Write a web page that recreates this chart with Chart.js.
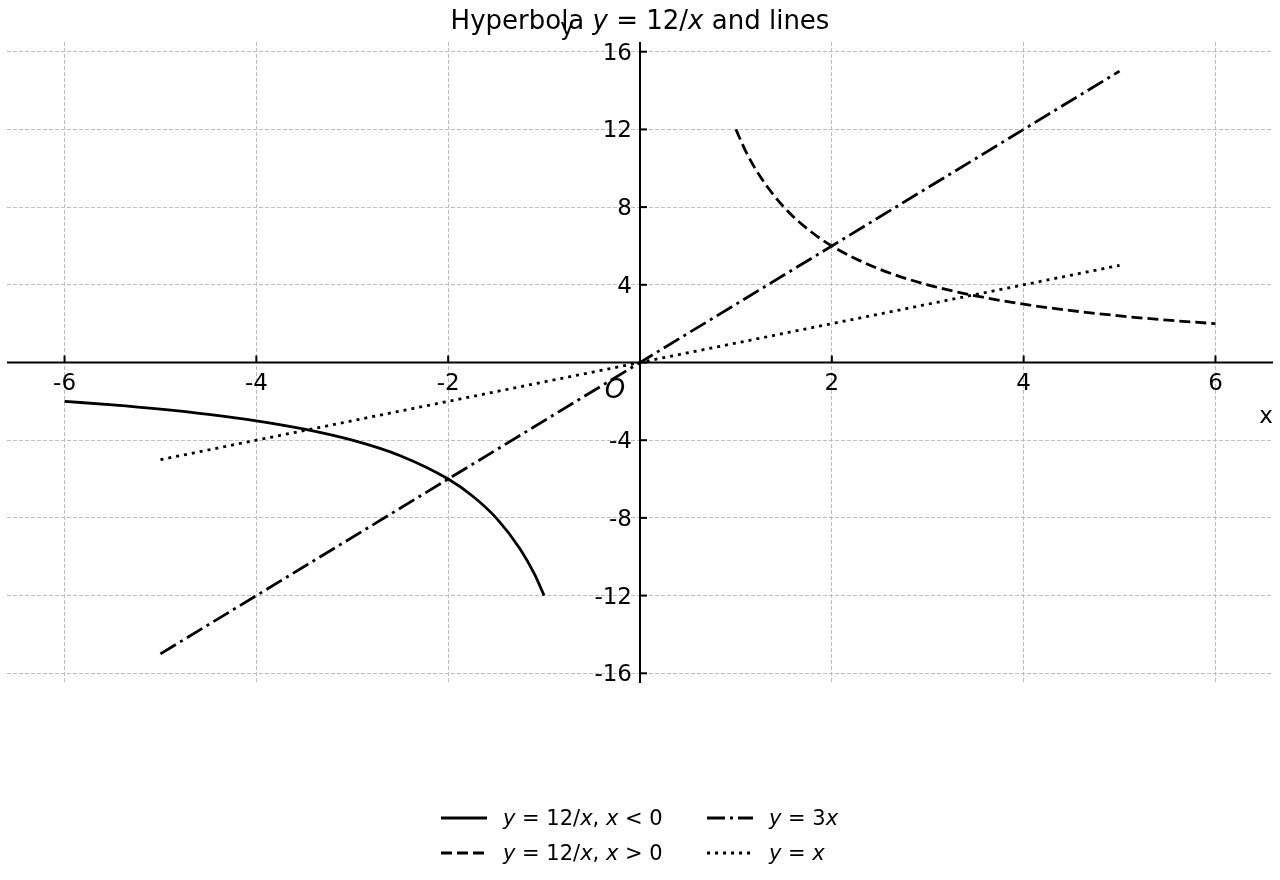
<!DOCTYPE html>
<html>
<head>
<meta charset="utf-8">
<script src="https://cdn.jsdelivr.net/npm/chart.js@4.4.0/dist/chart.umd.min.js"></script>
<style>
  html, body { margin: 0; padding: 0; background: #fff; }
  #wrap { width: 1280px; height: 880px; }
</style>
</head>
<body>
<div id="wrap"><canvas id="hyperbola" width="1280" height="880"></canvas></div>
<script>
// --- données ---
const negX = [-6, -5.5, -5, -4.5, -4, -3.5, -3, -2.5, -2, -1.75, -1.5, -1.25, -1.1, -1];
const negY = [-2, -2.18, -2.4, -2.67, -3, -3.43, -4, -4.8, -6, -6.86, -8, -9.6, -10.9, -12];
const posX = [1, 1.1, 1.25, 1.5, 1.75, 2, 2.5, 3, 3.5, 4, 4.5, 5, 5.5, 6];
const posY = [12, 10.9, 9.6, 8, 6.86, 6, 4.8, 4, 3.43, 3, 2.67, 2.4, 2.18, 2];
const lineX = [-5, 5];
const threeXY = [-15, 15];
const identY = [-5, 5];

const xTicks = [-6, -4, -2, 0, 2, 4, 6];
const yTicks = [-16, -12, -8, -4, 0, 4, 8, 12, 16];

// texte avec morceaux en italique (math)
const titleRuns = [["Hyperbola ", false], ["y", true], [" = 12/", false], ["x", true], [" and lines", false]];
const legendRuns = [
  [["y", true], [" = 12/", false], ["x", true], [", ", false], ["x", true], [" < 0", false]],
  [["y", true], [" = 12/", false], ["x", true], [", ", false], ["x", true], [" > 0", false]],
  [["y", true], [" = 3", false], ["x", true]],
  [["y", true], [" = ", false], ["x", true]]
];

const pts = (xs, ys) => xs.map((x, i) => ({ x: x, y: ys[i] }));

const FONT = "'DejaVu Sans', sans-serif";

function runsWidth(ctx, runs, size) {
  let w = 0;
  runs.forEach(([t, it]) => {
    ctx.font = (it ? "italic " : "") + size + "px " + FONT;
    w += ctx.measureText(t).width;
  });
  return w;
}

function drawRuns(ctx, runs, x, y, size, align) {
  let cx = align === "center" ? x - runsWidth(ctx, runs, size) / 2 : x;
  ctx.textAlign = "left";
  ctx.textBaseline = "alphabetic";
  runs.forEach(([t, it]) => {
    ctx.font = (it ? "italic " : "") + size + "px " + FONT;
    ctx.fillText(t, cx, y);
    cx += ctx.measureText(t).width;
  });
}

// axes au centre, graduations, titre et légende
const axesPlugin = {
  id: "centerAxes",
  afterDatasetsDraw(chart) {
    const ctx = chart.ctx;
    const area = chart.chartArea;
    const xs = chart.scales.x;
    const ys = chart.scales.y;
    const x0 = xs.getPixelForValue(0);
    const y0 = ys.getPixelForValue(0);

    ctx.save();
    ctx.strokeStyle = "#000";
    ctx.fillStyle = "#000";
    ctx.lineWidth = 2;
    ctx.setLineDash([]);

    // lignes des axes
    ctx.beginPath();
    ctx.moveTo(area.left, y0);
    ctx.lineTo(area.right, y0);
    ctx.moveTo(x0, area.top);
    ctx.lineTo(x0, area.bottom);
    ctx.stroke();

    // graduations + étiquettes
    ctx.font = "23px " + FONT;
    ctx.textBaseline = "alphabetic";
    xTicks.forEach(v => {
      const px = xs.getPixelForValue(v);
      ctx.beginPath();
      ctx.moveTo(px, y0);
      ctx.lineTo(px, y0 - 7);
      ctx.stroke();
      if (v !== 0) {
        ctx.textAlign = "center";
        ctx.fillText(String(v), px, y0 + 27);
      }
    });
    yTicks.forEach(v => {
      const py = ys.getPixelForValue(v);
      ctx.beginPath();
      ctx.moveTo(x0, py);
      ctx.lineTo(x0 + 7, py);
      ctx.stroke();
      if (v !== 0) {
        ctx.textAlign = "right";
        ctx.fillText(String(v), x0 - 8, py + 8);
      }
    });

    // noms des axes et origine
    ctx.textAlign = "center";
    ctx.fillText("x", area.right - 7, y0 + 60);
    ctx.fillText("y", x0 - 73, 35);
    ctx.font = "italic 26px " + FONT;
    ctx.fillText("O", x0 - 25, y0 + 35);

    // titre
    drawRuns(ctx, titleRuns, chart.width / 2, 29, 26, "center");

    // légende (2 colonnes)
    const ds = chart.data.datasets;
    const cols = [441, 707];
    const rows = [818, 853];
    const order = [[0, 0], [0, 1], [1, 0], [1, 1]];
    ds.forEach((d, i) => {
      const cx = cols[order[i][0]];
      const cy = rows[order[i][1]];
      ctx.strokeStyle = d.borderColor;
      ctx.lineWidth = d.borderWidth;
      ctx.setLineDash(d.borderDash || []);
      ctx.beginPath();
      ctx.moveTo(cx, cy);
      ctx.lineTo(cx + 46, cy);
      ctx.stroke();
      ctx.setLineDash([]);
      drawRuns(ctx, legendRuns[i], cx + 62, cy + 7, 21, "left");
    });
    ctx.restore();
  }
};

const common = {
  showLine: true,
  fill: false,
  pointRadius: 0,
  borderColor: "#000",
  borderWidth: 2.8,
  borderCapStyle: "butt"
};

new Chart(document.getElementById("hyperbola"), {
  type: "scatter",
  data: {
    datasets: [
      Object.assign({}, common, { label: "y=12/x, x<0", data: pts(negX, negY), cubicInterpolationMode: "monotone" }),
      Object.assign({}, common, { label: "y=12/x, x>0", data: pts(posX, posY), cubicInterpolationMode: "monotone", borderDash: [11, 5] }),
      Object.assign({}, common, { label: "y=3x", data: pts(lineX, threeXY), borderDash: [18, 5, 3, 5] }),
      Object.assign({}, common, { label: "y=x", data: pts(lineX, identY), borderDash: [3, 5] })
    ]
  },
  options: {
    responsive: false,
    animation: false,
    layout: { padding: { left: 7, right: 7, top: 42, bottom: 197 } },
    plugins: {
      legend: { display: false },
      title: { display: false },
      tooltip: { enabled: false }
    },
    scales: {
      x: {
        type: "linear",
        min: -6.6,
        max: 6.6,
        afterBuildTicks: s => { s.ticks = xTicks.map(v => ({ value: v })); },
        afterFit: s => { s.height = 0; },
        ticks: { display: false },
        grid: { color: "#bdbdbd", lineWidth: 1, drawTicks: false },
        border: { display: false, dash: [4, 2] }
      },
      y: {
        type: "linear",
        min: -16.5,
        max: 16.5,
        afterBuildTicks: s => { s.ticks = yTicks.map(v => ({ value: v })); },
        afterFit: s => { s.width = 0; },
        ticks: { display: false },
        grid: { color: "#bdbdbd", lineWidth: 1, drawTicks: false },
        border: { display: false, dash: [4, 2] }
      }
    }
  },
  plugins: [axesPlugin]
});
</script>
</body>
</html>
